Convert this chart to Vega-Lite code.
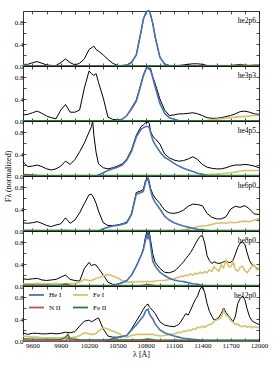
{
"$schema":"https://vega.github.io/schema/vega-lite/v6.json",
"padding":{"left":4,"top":7,"right":5,"bottom":4},
"spacing":0,
"bounds":"flush",
"config":{"font":"Liberation Serif","view":{"stroke":null},
"axis":{"grid":false,"domainColor":"#000","domainWidth":0.8,"tickColor":"#000","tickWidth":0.7,"tickSize":-3,"labelColor":"#000","labelFontSize":7,"labelFont":"Liberation Serif","labelPadding":3,"labelFlush":false,"labelBound":false,"titleFont":"Liberation Serif","titleFontSize":8,"titleFontWeight":"normal","titleColor":"#000","titlePadding":2},
"legend":{"labelFont":"Liberation Serif","labelFontSize":7,"labelColor":"#000","symbolType":"stroke","symbolStrokeWidth":1.8,"symbolSize":225,"symbolOffset":5,"columns":2,"columnPadding":5,"rowPadding":-8,"padding":0,"offset":0,"orient":"top-left","title":null,"labelOffset":4}},
"datasets":{
"he2p6":[{"x":9500,"t":0.03,"h":0.02,"f":0},{"x":9550,"t":0.03,"h":0.01,"f":0},{"x":9600,"t":0.06,"h":0,"f":0},{"x":9650,"t":0.08,"h":0,"f":0},{"x":9700,"t":0.05,"h":0,"f":0},{"x":9750,"t":0.02,"h":0,"f":0},{"x":9800,"t":0.01,"h":0,"f":0},{"x":9850,"t":0.01,"h":0,"f":0},{"x":9900,"t":0.06,"h":0,"f":0},{"x":9950,"t":0.13,"h":0,"f":0},{"x":10000,"t":0.06,"h":0,"f":0},{"x":10050,"t":0.02,"h":0,"f":0},{"x":10100,"t":0.05,"h":0,"f":0},{"x":10150,"t":0.13,"h":0,"f":0},{"x":10200,"t":0.3,"h":0,"f":0},{"x":10225,"t":0.33,"h":0,"f":0},{"x":10250,"t":0.36,"h":0,"f":0},{"x":10275,"t":0.3,"h":0,"f":0},{"x":10300,"t":0.27,"h":0,"f":0},{"x":10350,"t":0.2,"h":0,"f":0},{"x":10400,"t":0.12,"h":0,"f":0},{"x":10450,"t":0.05,"h":0,"f":0},{"x":10500,"t":0.01,"h":0,"f":0},{"x":10550,"t":0.01,"h":0.005,"f":0},{"x":10600,"t":0.02,"h":0.015,"f":0},{"x":10650,"t":0.07,"h":0.06,"f":0},{"x":10700,"t":0.2,"h":0.2,"f":0},{"x":10750,"t":0.62,"h":0.62,"f":0},{"x":10775,"t":0.85,"h":0.85,"f":0},{"x":10800,"t":0.96,"h":0.96,"f":0},{"x":10812,"t":0.99,"h":0.99,"f":0},{"x":10825,"t":1,"h":1,"f":0},{"x":10837,"t":1,"h":1,"f":0},{"x":10850,"t":0.94,"h":0.94,"f":0},{"x":10875,"t":0.77,"h":0.77,"f":0},{"x":10900,"t":0.53,"h":0.53,"f":0},{"x":10950,"t":0.16,"h":0.16,"f":0},{"x":11000,"t":0.04,"h":0.03,"f":0},{"x":11050,"t":0.01,"h":0.005,"f":0},{"x":11100,"t":0.01,"h":0,"f":0},{"x":11150,"t":0.01,"h":0,"f":0},{"x":11200,"t":0.02,"h":0,"f":0},{"x":11250,"t":0.03,"h":0,"f":0},{"x":11300,"t":0.04,"h":0,"f":0},{"x":11350,"t":0.04,"h":0,"f":0},{"x":11400,"t":0.03,"h":0,"f":0},{"x":11450,"t":0.01,"h":0,"f":0},{"x":11500,"t":0.01,"h":0,"f":0},{"x":11550,"t":0.01,"h":0,"f":0},{"x":11600,"t":0.01,"h":0,"f":0},{"x":11650,"t":0.01,"h":0,"f":0},{"x":11700,"t":0.01,"h":0,"f":0.005},{"x":11750,"t":0.02,"h":0,"f":0.008},{"x":11800,"t":0.03,"h":0,"f":0.01},{"x":11850,"t":0.02,"h":0,"f":0.012},{"x":11900,"t":0.01,"h":0,"f":0.012},{"x":11950,"t":0.02,"h":0,"f":0.015},{"x":12000,"t":0.02,"h":0,"f":0.015}],
"he2p6m":[{"x":9500,"s":"n","y":0.002},{"x":12000,"s":"n","y":0.002},{"x":9500,"s":"g","y":0.003},{"x":12000,"s":"g","y":0.003}],
"he3p3":[{"x":9500,"t":0.11,"h":0,"f":0},{"x":9550,"t":0.12,"h":0,"f":0},{"x":9600,"t":0.15,"h":0,"f":0},{"x":9650,"t":0.18,"h":0,"f":0},{"x":9700,"t":0.14,"h":0,"f":0},{"x":9750,"t":0.09,"h":0,"f":0},{"x":9800,"t":0.06,"h":0,"f":0},{"x":9850,"t":0.04,"h":0,"f":0},{"x":9900,"t":0.2,"h":0,"f":0},{"x":9950,"t":0.3,"h":0,"f":0},{"x":10000,"t":0.16,"h":0,"f":0},{"x":10050,"t":0.16,"h":0,"f":0},{"x":10100,"t":0.2,"h":0,"f":0},{"x":10150,"t":0.6,"h":0,"f":0},{"x":10200,"t":0.91,"h":0,"f":0},{"x":10225,"t":0.86,"h":0,"f":0},{"x":10250,"t":0.83,"h":0,"f":0},{"x":10275,"t":0.86,"h":0,"f":0},{"x":10300,"t":0.7,"h":0,"f":0},{"x":10350,"t":0.42,"h":0,"f":0},{"x":10400,"t":0.07,"h":0,"f":0},{"x":10450,"t":0.03,"h":0,"f":0},{"x":10500,"t":0.02,"h":0.01,"f":0},{"x":10550,"t":0.03,"h":0.03,"f":0},{"x":10600,"t":0.1,"h":0.1,"f":0},{"x":10650,"t":0.24,"h":0.22,"f":0},{"x":10700,"t":0.38,"h":0.36,"f":0},{"x":10750,"t":0.68,"h":0.66,"f":0},{"x":10775,"t":0.84,"h":0.82,"f":0},{"x":10800,"t":0.94,"h":0.93,"f":0},{"x":10812,"t":0.97,"h":0.96,"f":0},{"x":10825,"t":0.99,"h":0.98,"f":0},{"x":10837,"t":0.95,"h":0.94,"f":0},{"x":10850,"t":0.96,"h":0.93,"f":0},{"x":10875,"t":0.8,"h":0.78,"f":0},{"x":10900,"t":0.68,"h":0.62,"f":0},{"x":10950,"t":0.4,"h":0.32,"f":0},{"x":11000,"t":0.2,"h":0.14,"f":0},{"x":11050,"t":0.1,"h":0.06,"f":0},{"x":11100,"t":0.11,"h":0.03,"f":0},{"x":11150,"t":0.13,"h":0.01,"f":0},{"x":11200,"t":0.13,"h":0,"f":0},{"x":11250,"t":0.14,"h":0,"f":0},{"x":11300,"t":0.15,"h":0,"f":0},{"x":11350,"t":0.13,"h":0,"f":0},{"x":11400,"t":0.1,"h":0,"f":0},{"x":11450,"t":0.06,"h":0,"f":0.01},{"x":11500,"t":0.05,"h":0,"f":0.02},{"x":11550,"t":0.05,"h":0,"f":0.03},{"x":11600,"t":0.06,"h":0,"f":0.04},{"x":11650,"t":0.08,"h":0,"f":0.05},{"x":11700,"t":0.1,"h":0,"f":0.06},{"x":11750,"t":0.13,"h":0,"f":0.07},{"x":11800,"t":0.17,"h":0,"f":0.08},{"x":11850,"t":0.18,"h":0,"f":0.08},{"x":11900,"t":0.16,"h":0,"f":0.09},{"x":11950,"t":0.13,"h":0,"f":0.1},{"x":12000,"t":0.12,"h":0,"f":0.1}],
"he3p3m":[{"x":9500,"s":"n","y":0.003},{"x":12000,"s":"n","y":0.003},{"x":9500,"s":"g","y":0.005},{"x":12000,"s":"g","y":0.005}],
"he4p5":[{"x":9500,"t":0.26,"h":0,"f":0},{"x":9550,"t":0.17,"h":0,"f":0},{"x":9600,"t":0.18,"h":0,"f":0},{"x":9650,"t":0.2,"h":0,"f":0},{"x":9700,"t":0.17,"h":0,"f":0},{"x":9750,"t":0.13,"h":0,"f":0},{"x":9800,"t":0.11,"h":0,"f":0},{"x":9850,"t":0.13,"h":0,"f":0},{"x":9900,"t":0.18,"h":0,"f":0},{"x":9950,"t":0.27,"h":0,"f":0},{"x":10000,"t":0.21,"h":0,"f":0},{"x":10050,"t":0.3,"h":0,"f":0},{"x":10100,"t":0.44,"h":0,"f":0},{"x":10150,"t":0.6,"h":0,"f":0},{"x":10200,"t":0.8,"h":0,"f":0},{"x":10225,"t":0.9,"h":0,"f":0},{"x":10238,"t":1,"h":0,"f":0},{"x":10250,"t":0.75,"h":0,"f":0},{"x":10275,"t":0.42,"h":0,"f":0},{"x":10300,"t":0.22,"h":0.02,"f":0},{"x":10350,"t":0.15,"h":0.06,"f":0},{"x":10400,"t":0.13,"h":0.1,"f":0},{"x":10450,"t":0.15,"h":0.13,"f":0},{"x":10500,"t":0.18,"h":0.16,"f":0},{"x":10550,"t":0.22,"h":0.2,"f":0},{"x":10600,"t":0.31,"h":0.29,"f":0},{"x":10650,"t":0.48,"h":0.45,"f":0},{"x":10700,"t":0.74,"h":0.71,"f":0},{"x":10750,"t":0.9,"h":0.85,"f":0},{"x":10775,"t":0.93,"h":0.88,"f":0},{"x":10800,"t":0.97,"h":0.9,"f":0},{"x":10812,"t":0.98,"h":0.9,"f":0},{"x":10825,"t":0.98,"h":0.9,"f":0},{"x":10837,"t":0.96,"h":0.88,"f":0},{"x":10850,"t":0.82,"h":0.8,"f":0},{"x":10875,"t":0.72,"h":0.65,"f":0},{"x":10900,"t":0.68,"h":0.57,"f":0},{"x":10950,"t":0.58,"h":0.44,"f":0},{"x":11000,"t":0.4,"h":0.34,"f":0},{"x":11050,"t":0.33,"h":0.29,"f":0},{"x":11100,"t":0.29,"h":0.23,"f":0},{"x":11150,"t":0.27,"h":0.18,"f":0},{"x":11200,"t":0.28,"h":0.14,"f":0},{"x":11250,"t":0.31,"h":0.11,"f":0},{"x":11300,"t":0.35,"h":0.08,"f":0},{"x":11350,"t":0.3,"h":0.05,"f":0},{"x":11400,"t":0.21,"h":0.03,"f":0.01},{"x":11450,"t":0.16,"h":0.01,"f":0.02},{"x":11500,"t":0.14,"h":0,"f":0.03},{"x":11550,"t":0.13,"h":0,"f":0.03},{"x":11600,"t":0.13,"h":0,"f":0.04},{"x":11650,"t":0.15,"h":0,"f":0.05},{"x":11700,"t":0.18,"h":0,"f":0.06},{"x":11750,"t":0.2,"h":0,"f":0.07},{"x":11800,"t":0.2,"h":0,"f":0.09},{"x":11850,"t":0.21,"h":0,"f":0.1},{"x":11900,"t":0.2,"h":0,"f":0.1},{"x":11950,"t":0.18,"h":0,"f":0.1},{"x":12000,"t":0.15,"h":0,"f":0.1}],
"he4p5m":[{"x":9500,"s":"n","y":0.004},{"x":12000,"s":"n","y":0.004},{"x":9500,"s":"g","y":0.03},{"x":9650,"s":"g","y":0.015},{"x":9800,"s":"g","y":0.008},{"x":12000,"s":"g","y":0.008}],
"he6p0":[{"x":9500,"t":0.15,"h":0,"f":0},{"x":9550,"t":0.14,"h":0,"f":0},{"x":9600,"t":0.15,"h":0,"f":0},{"x":9650,"t":0.17,"h":0,"f":0},{"x":9700,"t":0.14,"h":0,"f":0},{"x":9750,"t":0.1,"h":0,"f":0},{"x":9800,"t":0.08,"h":0,"f":0},{"x":9850,"t":0.11,"h":0,"f":0},{"x":9900,"t":0.13,"h":0,"f":0},{"x":9950,"t":0.24,"h":0,"f":0},{"x":10000,"t":0.14,"h":0,"f":0},{"x":10050,"t":0.2,"h":0,"f":0},{"x":10100,"t":0.33,"h":0,"f":0},{"x":10150,"t":0.5,"h":0,"f":0},{"x":10200,"t":0.66,"h":0,"f":0},{"x":10225,"t":0.67,"h":0,"f":0},{"x":10250,"t":0.6,"h":0,"f":0},{"x":10275,"t":0.5,"h":0,"f":0},{"x":10300,"t":0.36,"h":0,"f":0},{"x":10350,"t":0.15,"h":0.04,"f":0},{"x":10400,"t":0.1,"h":0.07,"f":0},{"x":10450,"t":0.1,"h":0.09,"f":0},{"x":10500,"t":0.11,"h":0.1,"f":0},{"x":10550,"t":0.13,"h":0.12,"f":0},{"x":10600,"t":0.16,"h":0.15,"f":0},{"x":10650,"t":0.32,"h":0.3,"f":0},{"x":10700,"t":0.7,"h":0.67,"f":0},{"x":10750,"t":0.73,"h":0.7,"f":0},{"x":10775,"t":0.76,"h":0.72,"f":0},{"x":10800,"t":0.93,"h":0.9,"f":0},{"x":10812,"t":0.95,"h":0.93,"f":0},{"x":10825,"t":0.97,"h":0.94,"f":0},{"x":10837,"t":0.9,"h":0.85,"f":0},{"x":10850,"t":0.78,"h":0.75,"f":0},{"x":10875,"t":0.67,"h":0.6,"f":0},{"x":10900,"t":0.6,"h":0.52,"f":0},{"x":10950,"t":0.5,"h":0.4,"f":0},{"x":11000,"t":0.38,"h":0.27,"f":0},{"x":11050,"t":0.33,"h":0.2,"f":0},{"x":11100,"t":0.32,"h":0.15,"f":0},{"x":11150,"t":0.34,"h":0.12,"f":0},{"x":11200,"t":0.38,"h":0.09,"f":0.02},{"x":11250,"t":0.45,"h":0.07,"f":0.04},{"x":11300,"t":0.49,"h":0.05,"f":0.06},{"x":11350,"t":0.48,"h":0.03,"f":0.08},{"x":11400,"t":0.46,"h":0.02,"f":0.09},{"x":11450,"t":0.32,"h":0.01,"f":0.1},{"x":11500,"t":0.25,"h":0,"f":0.12},{"x":11550,"t":0.22,"h":0,"f":0.14},{"x":11600,"t":0.22,"h":0,"f":0.15},{"x":11650,"t":0.26,"h":0,"f":0.14},{"x":11700,"t":0.4,"h":0,"f":0.16},{"x":11750,"t":0.45,"h":0,"f":0.15},{"x":11800,"t":0.43,"h":0,"f":0.17},{"x":11850,"t":0.46,"h":0,"f":0.18},{"x":11900,"t":0.4,"h":0,"f":0.17},{"x":11950,"t":0.31,"h":0,"f":0.2},{"x":12000,"t":0.3,"h":0,"f":0.22}],
"he6p0m":[{"x":9500,"s":"n","y":0.004},{"x":12000,"s":"n","y":0.004},{"x":9500,"s":"g","y":0.015},{"x":9700,"s":"g","y":0.01},{"x":9950,"s":"g","y":0.015},{"x":10050,"s":"g","y":0.008},{"x":12000,"s":"g","y":0.008}],
"he8p0":[{"x":9500,"t":0.13,"h":0,"f":0.04},{"x":9550,"t":0.12,"h":0,"f":0.04},{"x":9600,"t":0.13,"h":0,"f":0.04},{"x":9650,"t":0.14,"h":0,"f":0.05},{"x":9700,"t":0.11,"h":0,"f":0.04},{"x":9750,"t":0.1,"h":0,"f":0.04},{"x":9800,"t":0.11,"h":0,"f":0.04},{"x":9850,"t":0.12,"h":0,"f":0.05},{"x":9900,"t":0.16,"h":0,"f":0.04},{"x":9950,"t":0.2,"h":0,"f":0.04},{"x":10000,"t":0.12,"h":0,"f":0.04},{"x":10050,"t":0.1,"h":0,"f":0.05},{"x":10100,"t":0.09,"h":0,"f":0.07},{"x":10150,"t":0.32,"h":0,"f":0.12},{"x":10200,"t":0.43,"h":0,"f":0.1},{"x":10225,"t":0.37,"h":0,"f":0.1},{"x":10250,"t":0.39,"h":0,"f":0.12},{"x":10275,"t":0.38,"h":0,"f":0.14},{"x":10300,"t":0.32,"h":0,"f":0.15},{"x":10350,"t":0.2,"h":0,"f":0.18},{"x":10400,"t":0.07,"h":0,"f":0.21},{"x":10450,"t":0.03,"h":0.01,"f":0.18},{"x":10500,"t":0.03,"h":0.03,"f":0.15},{"x":10550,"t":0.06,"h":0.06,"f":0.1},{"x":10600,"t":0.1,"h":0.1,"f":0.07},{"x":10650,"t":0.2,"h":0.2,"f":0.07},{"x":10700,"t":0.36,"h":0.36,"f":0.08},{"x":10750,"t":0.55,"h":0.55,"f":0.08},{"x":10775,"t":0.68,"h":0.66,"f":0.08},{"x":10800,"t":0.92,"h":0.85,"f":0.08},{"x":10812,"t":0.98,"h":0.95,"f":0.08},{"x":10825,"t":0.9,"h":0.85,"f":0.08},{"x":10837,"t":0.98,"h":0.95,"f":0.08},{"x":10850,"t":0.85,"h":0.75,"f":0.08},{"x":10875,"t":0.58,"h":0.45,"f":0.08},{"x":10900,"t":0.43,"h":0.36,"f":0.09},{"x":10950,"t":0.32,"h":0.25,"f":0.1},{"x":11000,"t":0.25,"h":0.19,"f":0.1},{"x":11050,"t":0.24,"h":0.14,"f":0.12},{"x":11100,"t":0.27,"h":0.11,"f":0.13},{"x":11125,"t":0.3,"h":0.1,"f":0.15},{"x":11150,"t":0.35,"h":0.09,"f":0.16},{"x":11175,"t":0.39,"h":0.085,"f":0.18},{"x":11200,"t":0.44,"h":0.08,"f":0.17},{"x":11225,"t":0.5,"h":0.07,"f":0.2},{"x":11250,"t":0.55,"h":0.06,"f":0.19},{"x":11275,"t":0.61,"h":0.05,"f":0.22},{"x":11300,"t":0.68,"h":0.04,"f":0.2},{"x":11325,"t":0.76,"h":0.035,"f":0.23},{"x":11350,"t":0.84,"h":0.03,"f":0.22},{"x":11375,"t":0.9,"h":0.02,"f":0.25},{"x":11400,"t":0.92,"h":0.01,"f":0.23},{"x":11425,"t":0.78,"h":0.005,"f":0.26},{"x":11450,"t":0.55,"h":0,"f":0.24},{"x":11475,"t":0.46,"h":0,"f":0.29},{"x":11500,"t":0.41,"h":0,"f":0.27},{"x":11525,"t":0.44,"h":0,"f":0.35},{"x":11550,"t":0.42,"h":0,"f":0.3},{"x":11575,"t":0.41,"h":0,"f":0.27},{"x":11600,"t":0.42,"h":0,"f":0.38},{"x":11625,"t":0.44,"h":0,"f":0.33},{"x":11650,"t":0.46,"h":0,"f":0.47},{"x":11675,"t":0.43,"h":0,"f":0.36},{"x":11700,"t":0.43,"h":0,"f":0.35},{"x":11725,"t":0.47,"h":0,"f":0.44},{"x":11750,"t":0.58,"h":0,"f":0.3},{"x":11775,"t":0.7,"h":0,"f":0.27},{"x":11800,"t":0.78,"h":0,"f":0.34},{"x":11825,"t":0.8,"h":0,"f":0.36},{"x":11850,"t":0.76,"h":0,"f":0.28},{"x":11875,"t":0.6,"h":0,"f":0.24},{"x":11900,"t":0.46,"h":0,"f":0.3},{"x":11925,"t":0.39,"h":0,"f":0.36},{"x":11950,"t":0.36,"h":0,"f":0.38},{"x":11975,"t":0.33,"h":0,"f":0.3},{"x":12000,"t":0.3,"h":0,"f":0.31}],
"he8p0m":[{"x":9500,"s":"n","y":0.005},{"x":12000,"s":"n","y":0.005},{"x":9500,"s":"g","y":0.02},{"x":9900,"s":"g","y":0.015},{"x":9950,"s":"g","y":0.035},{"x":10000,"s":"g","y":0.015},{"x":10750,"s":"g","y":0.01},{"x":10825,"s":"g","y":0.03},{"x":10900,"s":"g","y":0.01},{"x":12000,"s":"g","y":0.01}],
"he12p0":[{"x":9500,"t":0.15,"h":0,"f":0.09},{"x":9550,"t":0.12,"h":0,"f":0.08},{"x":9600,"t":0.14,"h":0,"f":0.07},{"x":9650,"t":0.14,"h":0,"f":0.07},{"x":9700,"t":0.13,"h":0,"f":0.06},{"x":9750,"t":0.13,"h":0,"f":0.06},{"x":9800,"t":0.14,"h":0,"f":0.06},{"x":9850,"t":0.13,"h":0,"f":0.06},{"x":9900,"t":0.14,"h":0,"f":0.06},{"x":9950,"t":0.16,"h":0,"f":0.07},{"x":10000,"t":0.15,"h":0,"f":0.06},{"x":10050,"t":0.17,"h":0,"f":0.07},{"x":10100,"t":0.27,"h":0,"f":0.1},{"x":10150,"t":0.36,"h":0,"f":0.15},{"x":10200,"t":0.38,"h":0,"f":0.13},{"x":10225,"t":0.35,"h":0,"f":0.12},{"x":10250,"t":0.37,"h":0,"f":0.12},{"x":10275,"t":0.4,"h":0,"f":0.14},{"x":10300,"t":0.42,"h":0,"f":0.18},{"x":10350,"t":0.22,"h":0,"f":0.24},{"x":10400,"t":0.09,"h":0.02,"f":0.22},{"x":10450,"t":0.07,"h":0.04,"f":0.18},{"x":10500,"t":0.07,"h":0.06,"f":0.15},{"x":10550,"t":0.08,"h":0.08,"f":0.1},{"x":10600,"t":0.1,"h":0.1,"f":0.07},{"x":10650,"t":0.22,"h":0.2,"f":0.1},{"x":10700,"t":0.36,"h":0.29,"f":0.12},{"x":10750,"t":0.5,"h":0.4,"f":0.12},{"x":10775,"t":0.58,"h":0.45,"f":0.12},{"x":10800,"t":0.64,"h":0.55,"f":0.12},{"x":10812,"t":0.66,"h":0.57,"f":0.12},{"x":10825,"t":0.67,"h":0.58,"f":0.12},{"x":10837,"t":0.62,"h":0.5,"f":0.12},{"x":10850,"t":0.6,"h":0.46,"f":0.12},{"x":10875,"t":0.55,"h":0.4,"f":0.12},{"x":10900,"t":0.5,"h":0.31,"f":0.11},{"x":10950,"t":0.35,"h":0.2,"f":0.09},{"x":11000,"t":0.29,"h":0.15,"f":0.1},{"x":11050,"t":0.27,"h":0.12,"f":0.12},{"x":11100,"t":0.26,"h":0.09,"f":0.13},{"x":11125,"t":0.28,"h":0.08,"f":0.14},{"x":11150,"t":0.3,"h":0.07,"f":0.16},{"x":11175,"t":0.36,"h":0.06,"f":0.15},{"x":11200,"t":0.43,"h":0.05,"f":0.18},{"x":11225,"t":0.5,"h":0.045,"f":0.17},{"x":11250,"t":0.47,"h":0.04,"f":0.2},{"x":11275,"t":0.56,"h":0.035,"f":0.19},{"x":11300,"t":0.66,"h":0.03,"f":0.22},{"x":11325,"t":0.75,"h":0.025,"f":0.21},{"x":11350,"t":0.82,"h":0.02,"f":0.25},{"x":11375,"t":0.94,"h":0.015,"f":0.24},{"x":11400,"t":1,"h":0.01,"f":0.27},{"x":11425,"t":0.88,"h":0.005,"f":0.25},{"x":11450,"t":0.68,"h":0,"f":0.28},{"x":11475,"t":0.54,"h":0,"f":0.3},{"x":11500,"t":0.45,"h":0,"f":0.31},{"x":11525,"t":0.38,"h":0,"f":0.36},{"x":11550,"t":0.4,"h":0,"f":0.38},{"x":11575,"t":0.43,"h":0,"f":0.4},{"x":11600,"t":0.5,"h":0,"f":0.43},{"x":11625,"t":0.6,"h":0,"f":0.56},{"x":11650,"t":0.52,"h":0,"f":0.47},{"x":11675,"t":0.46,"h":0,"f":0.44},{"x":11700,"t":0.41,"h":0,"f":0.38},{"x":11725,"t":0.35,"h":0,"f":0.34},{"x":11750,"t":0.45,"h":0,"f":0.3},{"x":11775,"t":0.68,"h":0,"f":0.31},{"x":11800,"t":0.77,"h":0,"f":0.27},{"x":11825,"t":0.82,"h":0,"f":0.26},{"x":11850,"t":0.75,"h":0,"f":0.28},{"x":11875,"t":0.58,"h":0,"f":0.25},{"x":11900,"t":0.44,"h":0,"f":0.27},{"x":11925,"t":0.37,"h":0,"f":0.24},{"x":11950,"t":0.34,"h":0,"f":0.26},{"x":11975,"t":0.32,"h":0,"f":0.25},{"x":12000,"t":0.3,"h":0,"f":0.24}],
"he12p0m":[{"x":9500,"s":"n","y":0.01},{"x":9950,"s":"n","y":0.01},{"x":9975,"s":"n","y":0.05},{"x":10000,"s":"n","y":0.01},{"x":12000,"s":"n","y":0.008},{"x":9500,"s":"g","y":0.04},{"x":9600,"s":"g","y":0.035},{"x":9900,"s":"g","y":0.03},{"x":9950,"s":"g","y":0.06},{"x":9975,"s":"g","y":0.12},{"x":10000,"s":"g","y":0.04},{"x":10100,"s":"g","y":0.025},{"x":10750,"s":"g","y":0.02},{"x":10825,"s":"g","y":0.035},{"x":10900,"s":"g","y":0.02},{"x":12000,"s":"g","y":0.015}]
},
"resolve":{"scale":{"color":"independent"}},
"vconcat":[
{"width":236,"height":55,"layer":[
{"data":{"name":"he2p6"},"mark":{"type":"line","color":"#000","strokeWidth":1},"encoding":{"x":{"field":"x","type":"quantitative","scale":{"domain":[9500,12000],"nice":false,"zero":false},"axis":{"orient":"top","values":[9600,9750,9900,10050,10200,10350,10500,10650,10800,10950,11100,11250,11400,11550,11700,11850,12000],"labels":false,"title":null}},"y":{"field":"t","type":"quantitative","scale":{"domain":[0,1],"nice":false,"zero":false},"axis":{"orient":"right","values":[0,0.2,0.4,0.6,0.8],"labels":false,"title":null}}}},
{"data":{"name":"he2p6"},"transform":[{"fold":["f","h"],"as":["s","y"]}],"mark":{"type":"line","strokeWidth":1.6},"encoding":{"x":{"field":"x","type":"quantitative","axis":{"values":[9600,9750,9900,10050,10200,10350,10500,10650,10800,10950,11100,11250,11400,11550,11700,11850,12000],"labels":false,"title":null}},"y":{"field":"y","type":"quantitative","axis":{"values":[0,0.2,0.4,0.6,0.8],"labelExpr":"datum.value == 0.2 || datum.value == 0.6 ? '' : format(datum.value, '.1f')","title":null}},"color":{"field":"s","type":"nominal","scale":{"domain":["h","n","f","g"],"range":["#4c72b0","#c44e52","#d4c46f","#2b7b3b"]},"legend":null}}},
{"data":{"name":"he2p6m"},"mark":{"type":"line","strokeWidth":1.4},"encoding":{"x":{"field":"x","type":"quantitative","axis":null},"y":{"field":"y","type":"quantitative","axis":null},"color":{"field":"s","type":"nominal","legend":null}}},
{"data":{"values":[{"lab":"he2p6"}]},"mark":{"type":"text","align":"right","baseline":"middle","fontSize":7.5,"dx":-3},"encoding":{"x":{"datum":12000,"type":"quantitative","axis":null},"y":{"datum":0.82,"type":"quantitative","axis":null},"text":{"field":"lab"}}}
],"resolve":{"axis":{"x":"independent","y":"independent"}}},
{"width":236,"height":55,"layer":[
{"data":{"name":"he3p3"},"mark":{"type":"line","color":"#000","strokeWidth":1},"encoding":{"x":{"field":"x","type":"quantitative","scale":{"domain":[9500,12000],"nice":false,"zero":false},"axis":{"orient":"top","values":[9600,9750,9900,10050,10200,10350,10500,10650,10800,10950,11100,11250,11400,11550,11700,11850,12000],"labels":false,"title":null}},"y":{"field":"t","type":"quantitative","scale":{"domain":[0,1],"nice":false,"zero":false},"axis":{"orient":"right","values":[0,0.2,0.4,0.6,0.8],"labels":false,"title":null}}}},
{"data":{"name":"he3p3"},"transform":[{"fold":["f","h"],"as":["s","y"]}],"mark":{"type":"line","strokeWidth":1.6},"encoding":{"x":{"field":"x","type":"quantitative","axis":{"values":[9600,9750,9900,10050,10200,10350,10500,10650,10800,10950,11100,11250,11400,11550,11700,11850,12000],"labels":false,"title":null}},"y":{"field":"y","type":"quantitative","axis":{"values":[0,0.2,0.4,0.6,0.8],"labelExpr":"datum.value == 0.2 || datum.value == 0.6 ? '' : format(datum.value, '.1f')","title":null}},"color":{"field":"s","type":"nominal","scale":{"domain":["h","n","f","g"],"range":["#4c72b0","#c44e52","#d4c46f","#2b7b3b"]},"legend":null}}},
{"data":{"name":"he3p3m"},"mark":{"type":"line","strokeWidth":1.4},"encoding":{"x":{"field":"x","type":"quantitative","axis":null},"y":{"field":"y","type":"quantitative","axis":null},"color":{"field":"s","type":"nominal","legend":null}}},
{"data":{"values":[{"lab":"he3p3"}]},"mark":{"type":"text","align":"right","baseline":"middle","fontSize":7.5,"dx":-3},"encoding":{"x":{"datum":12000,"type":"quantitative","axis":null},"y":{"datum":0.82,"type":"quantitative","axis":null},"text":{"field":"lab"}}}
],"resolve":{"axis":{"x":"independent","y":"independent"}}},
{"width":236,"height":55,"layer":[
{"data":{"name":"he4p5"},"mark":{"type":"line","color":"#000","strokeWidth":1},"encoding":{"x":{"field":"x","type":"quantitative","scale":{"domain":[9500,12000],"nice":false,"zero":false},"axis":{"orient":"top","values":[9600,9750,9900,10050,10200,10350,10500,10650,10800,10950,11100,11250,11400,11550,11700,11850,12000],"labels":false,"title":null}},"y":{"field":"t","type":"quantitative","scale":{"domain":[0,1],"nice":false,"zero":false},"axis":{"orient":"right","values":[0,0.2,0.4,0.6,0.8],"labels":false,"title":null}}}},
{"data":{"name":"he4p5"},"transform":[{"fold":["f","h"],"as":["s","y"]}],"mark":{"type":"line","strokeWidth":1.6},"encoding":{"x":{"field":"x","type":"quantitative","axis":{"values":[9600,9750,9900,10050,10200,10350,10500,10650,10800,10950,11100,11250,11400,11550,11700,11850,12000],"labels":false,"title":null}},"y":{"field":"y","type":"quantitative","axis":{"values":[0,0.2,0.4,0.6,0.8],"labelExpr":"datum.value == 0.2 || datum.value == 0.6 ? '' : format(datum.value, '.1f')","title":"Fλ (normalized)","titleY":55}},"color":{"field":"s","type":"nominal","scale":{"domain":["h","n","f","g"],"range":["#4c72b0","#c44e52","#d4c46f","#2b7b3b"]},"legend":null}}},
{"data":{"name":"he4p5m"},"mark":{"type":"line","strokeWidth":1.4},"encoding":{"x":{"field":"x","type":"quantitative","axis":null},"y":{"field":"y","type":"quantitative","axis":null},"color":{"field":"s","type":"nominal","legend":null}}},
{"data":{"values":[{"lab":"he4p5"}]},"mark":{"type":"text","align":"right","baseline":"middle","fontSize":7.5,"dx":-3},"encoding":{"x":{"datum":12000,"type":"quantitative","axis":null},"y":{"datum":0.82,"type":"quantitative","axis":null},"text":{"field":"lab"}}}
],"resolve":{"axis":{"x":"independent","y":"independent"}}},
{"width":236,"height":55,"layer":[
{"data":{"name":"he6p0"},"mark":{"type":"line","color":"#000","strokeWidth":1},"encoding":{"x":{"field":"x","type":"quantitative","scale":{"domain":[9500,12000],"nice":false,"zero":false},"axis":{"orient":"top","values":[9600,9750,9900,10050,10200,10350,10500,10650,10800,10950,11100,11250,11400,11550,11700,11850,12000],"labels":false,"title":null}},"y":{"field":"t","type":"quantitative","scale":{"domain":[0,1],"nice":false,"zero":false},"axis":{"orient":"right","values":[0,0.2,0.4,0.6,0.8],"labels":false,"title":null}}}},
{"data":{"name":"he6p0"},"transform":[{"fold":["f","h"],"as":["s","y"]}],"mark":{"type":"line","strokeWidth":1.6},"encoding":{"x":{"field":"x","type":"quantitative","axis":{"values":[9600,9750,9900,10050,10200,10350,10500,10650,10800,10950,11100,11250,11400,11550,11700,11850,12000],"labels":false,"title":null}},"y":{"field":"y","type":"quantitative","axis":{"values":[0,0.2,0.4,0.6,0.8],"labelExpr":"datum.value == 0.2 || datum.value == 0.6 ? '' : format(datum.value, '.1f')","title":null}},"color":{"field":"s","type":"nominal","scale":{"domain":["h","n","f","g"],"range":["#4c72b0","#c44e52","#d4c46f","#2b7b3b"]},"legend":null}}},
{"data":{"name":"he6p0m"},"mark":{"type":"line","strokeWidth":1.4},"encoding":{"x":{"field":"x","type":"quantitative","axis":null},"y":{"field":"y","type":"quantitative","axis":null},"color":{"field":"s","type":"nominal","legend":null}}},
{"data":{"values":[{"lab":"he6p0"}]},"mark":{"type":"text","align":"right","baseline":"middle","fontSize":7.5,"dx":-3},"encoding":{"x":{"datum":12000,"type":"quantitative","axis":null},"y":{"datum":0.82,"type":"quantitative","axis":null},"text":{"field":"lab"}}}
],"resolve":{"axis":{"x":"independent","y":"independent"}}},
{"width":236,"height":55,"layer":[
{"data":{"name":"he8p0"},"mark":{"type":"line","color":"#000","strokeWidth":1},"encoding":{"x":{"field":"x","type":"quantitative","scale":{"domain":[9500,12000],"nice":false,"zero":false},"axis":{"orient":"top","values":[9600,9750,9900,10050,10200,10350,10500,10650,10800,10950,11100,11250,11400,11550,11700,11850,12000],"labels":false,"title":null}},"y":{"field":"t","type":"quantitative","scale":{"domain":[0,1],"nice":false,"zero":false},"axis":{"orient":"right","values":[0,0.2,0.4,0.6,0.8],"labels":false,"title":null}}}},
{"data":{"name":"he8p0"},"transform":[{"fold":["f","h"],"as":["s","y"]}],"mark":{"type":"line","strokeWidth":1.6},"encoding":{"x":{"field":"x","type":"quantitative","axis":{"values":[9600,9750,9900,10050,10200,10350,10500,10650,10800,10950,11100,11250,11400,11550,11700,11850,12000],"labels":false,"title":null}},"y":{"field":"y","type":"quantitative","axis":{"values":[0,0.2,0.4,0.6,0.8],"labelExpr":"datum.value == 0.2 || datum.value == 0.6 ? '' : format(datum.value, '.1f')","title":null}},"color":{"field":"s","type":"nominal","scale":{"domain":["h","n","f","g"],"range":["#4c72b0","#c44e52","#d4c46f","#2b7b3b"]},"legend":null}}},
{"data":{"name":"he8p0m"},"mark":{"type":"line","strokeWidth":1.4},"encoding":{"x":{"field":"x","type":"quantitative","axis":null},"y":{"field":"y","type":"quantitative","axis":null},"color":{"field":"s","type":"nominal","legend":null}}},
{"data":{"values":[{"lab":"he8p0"}]},"mark":{"type":"text","align":"right","baseline":"middle","fontSize":7.5,"dx":-3},"encoding":{"x":{"datum":12000,"type":"quantitative","axis":null},"y":{"datum":0.82,"type":"quantitative","axis":null},"text":{"field":"lab"}}}
],"resolve":{"axis":{"x":"independent","y":"independent"}}},
{"width":236,"height":55,"layer":[
{"data":{"name":"he12p0"},"mark":{"type":"line","color":"#000","strokeWidth":1},"encoding":{"x":{"field":"x","type":"quantitative","scale":{"domain":[9500,12000],"nice":false,"zero":false},"axis":{"orient":"top","values":[9600,9750,9900,10050,10200,10350,10500,10650,10800,10950,11100,11250,11400,11550,11700,11850,12000],"labels":false,"title":null}},"y":{"field":"t","type":"quantitative","scale":{"domain":[0,1],"nice":false,"zero":false},"axis":{"orient":"right","values":[0,0.2,0.4,0.6,0.8],"labels":false,"title":null}}}},
{"data":{"name":"he12p0"},"transform":[{"fold":["f","h"],"as":["s","y"]}],"mark":{"type":"line","strokeWidth":1.6},"encoding":{"x":{"field":"x","type":"quantitative","axis":{"values":[9600,9750,9900,10050,10200,10350,10500,10650,10800,10950,11100,11250,11400,11550,11700,11850,12000],"format":"d","labelExpr":"datum.value % 300 == 0 ? datum.label : ''","title":"λ [Å]"}},"y":{"field":"y","type":"quantitative","axis":{"values":[0,0.2,0.4,0.6,0.8],"labelExpr":"datum.value == 0.2 || datum.value == 0.6 ? '' : format(datum.value, '.1f')","title":null}},"color":{"field":"s","type":"nominal","scale":{"domain":["h","n","f","g"],"range":["#4c72b0","#c44e52","#d4c46f","#2b7b3b"]},"legend":{"labelExpr":"datum.label == 'h' ? 'He I' : datum.label == 'f' ? 'Fe I' : datum.label == 'n' ? 'N II' : 'Fe II'"}}}},
{"data":{"name":"he12p0m"},"mark":{"type":"line","strokeWidth":1.4},"encoding":{"x":{"field":"x","type":"quantitative","axis":null},"y":{"field":"y","type":"quantitative","axis":null},"color":{"field":"s","type":"nominal"}}},
{"data":{"values":[{"lab":"he12p0"}]},"mark":{"type":"text","align":"right","baseline":"middle","fontSize":7.5,"dx":-3},"encoding":{"x":{"datum":12000,"type":"quantitative","axis":null},"y":{"datum":0.82,"type":"quantitative","axis":null},"text":{"field":"lab"}}}
],"resolve":{"axis":{"x":"independent","y":"independent"}}}
]
}
